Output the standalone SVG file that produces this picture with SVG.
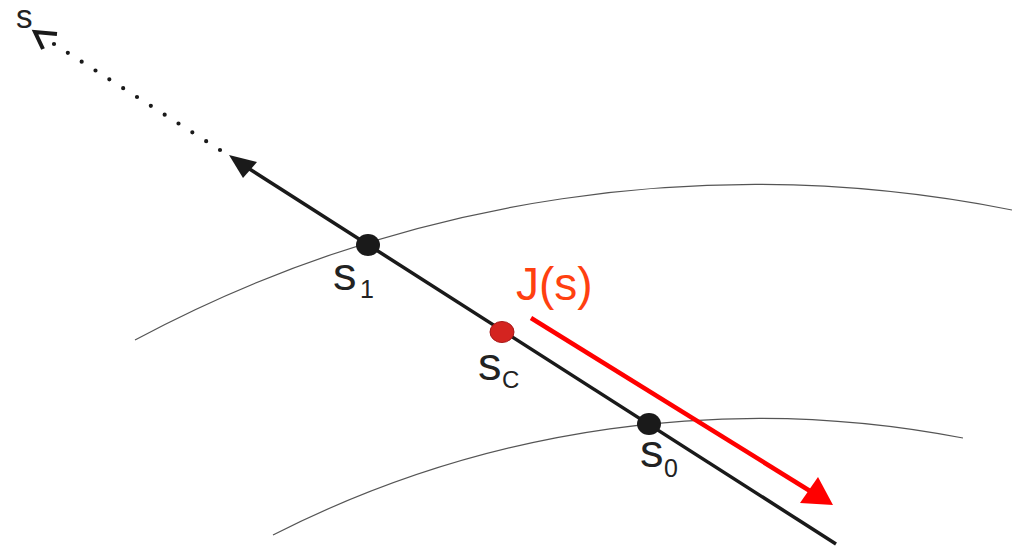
<svg xmlns="http://www.w3.org/2000/svg" width="1012" height="547" viewBox="0 0 1012 547">
<style>
.arc{fill:none;stroke:#555;stroke-width:1.2}
.main{stroke:#1a1a1a;stroke-width:3.5;fill:none}
.dot{fill:#1a1a1a}
.lbl{font-family:"Liberation Sans",Arial,sans-serif;fill:#222}
.red{fill:#ff0000}
</style>
<rect width="1012" height="547" fill="#fff"/>
<g id="curves">
<path class="arc" d="M135,340 A1313,1313 0 0 1 1012,210"/>
<path class="arc" d="M273,535 A1071,1071 0 0 1 963,438"/>
</g>
<g id="connectors">
<line class="main" x1="836" y1="544" x2="248" y2="168"/>
<polygon fill="#1a1a1a" points="229,155 257,162 243,178"/>
<line x1="54" y1="44" x2="220" y2="150" stroke="#1a1a1a" stroke-width="4.2" stroke-linecap="round" stroke-dasharray="0 16.413"/>
<polyline points="57,34 35,32 43,49" fill="none" stroke="#1a1a1a" stroke-width="4"/>
<line x1="531" y1="318" x2="810" y2="491" stroke="#ff0000" stroke-width="4.5"/>
<polygon class="red" points="833,505 800,503 818,477"/>
</g>
<g id="node-s">
<text class="lbl" x="16" y="28" font-size="33">s</text>
</g>
<g id="node-s1">
<ellipse class="dot" cx="368" cy="245" rx="12" ry="11"/>
<text class="lbl" x="333" y="290" font-size="47">s</text>
<text class="lbl" x="360" y="298" font-size="25">1</text>
</g>
<g id="node-sc">
<ellipse cx="502" cy="332" rx="12" ry="10.5" fill="#d42420" stroke="#a81818" stroke-width="1"/>
<text class="lbl" x="478" y="380" font-size="47">s</text>
<text class="lbl" x="502" y="388" font-size="24">C</text>
</g>
<g id="node-s0">
<ellipse class="dot" cx="649" cy="424" rx="12" ry="11"/>
<text class="lbl" x="640" y="467" font-size="47">s</text>
<text class="lbl" x="664" y="477" font-size="25">0</text>
</g>
<g id="label-J">
<text x="516" y="300" font-size="46" font-family="'Liberation Sans',Arial,sans-serif" fill="#ff4010">J(s)</text>
</g>
</svg>
